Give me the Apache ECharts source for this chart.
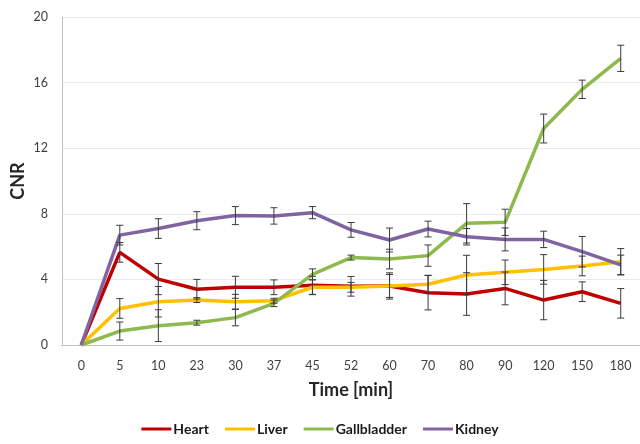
<!DOCTYPE html>
<html><head><meta charset="utf-8">
<script src="https://cdn.jsdelivr.net/npm/echarts@6/dist/echarts.min.js"></script>
<style>html,body{margin:0;padding:0;background:#fff}#c{width:640px;height:444px}</style>
</head><body><div id="c"></div>
<script>
var categories = ['0','5','10','23','30','37','45','52','60','70','80','90','120','150','180'];
var yTicks = [0, 4, 8, 12, 16, 20];
var heart      = [0, 5.65, 4.02, 3.40, 3.52, 3.52, 3.64, 3.58, 3.60, 3.19, 3.11, 3.45, 2.74, 3.25, 2.54];
var heartErr   = [0, 0.60, 0.95, 0.60, 0.67, 0.45, 0.55, 0.60, 0.80, 1.05, 1.30, 1.00, 1.20, 0.60, 0.90];
var liver      = [0, 2.23, 2.64, 2.74, 2.64, 2.70, 3.52, 3.52, 3.60, 3.70, 4.27, 4.43, 4.61, 4.82, 5.08];
var liverErr   = [0, 0.60, 0.93, 0.15, 0.45, 0.15, 0.45, 0.30, 0.70, 0.55, 1.20, 0.75, 0.90, 0.60, 0.80];
var gall       = [0, 0.85, 1.18, 1.36, 1.67, 2.54, 4.31, 5.33, 5.24, 5.45, 7.42, 7.48, 13.20, 15.59, 17.48];
var gallErr    = [0, 0.55, 0.97, 0.15, 0.50, 0.20, 0.33, 0.15, 0.60, 0.65, 1.20, 0.80, 0.88, 0.56, 0.80];
var kidney     = [0, 6.70, 7.10, 7.58, 7.89, 7.87, 8.07, 7.02, 6.40, 7.07, 6.60, 6.44, 6.44, 5.69, 4.88];
var kidneyErr  = [0, 0.60, 0.60, 0.55, 0.55, 0.50, 0.37, 0.45, 0.73, 0.48, 0.50, 0.70, 0.50, 0.93, 0.60];

var names = ['Heart', 'Liver', 'Gallbladder', 'Kidney'];
var colors = ['#C00000', '#FFC000', '#8DB94E', '#8064A2'];
var values = [heart, liver, gall, kidney];
var errs = [heartErr, liverErr, gallErr, kidneyErr];

var FONT = 'Lato';
var series = [];
names.forEach(function (n, k) {
  series.push({
    name: n, type: 'line', data: values[k], symbol: 'none', smooth: false,
    lineStyle: { color: colors[k], width: 3.5 }, itemStyle: { color: colors[k] },
    z: 2 + k
  });
});
names.forEach(function (n, k) {
  series.push({
    name: n + ' error', type: 'custom', z: 10,
    encode: { x: 0, y: 1 },
    data: values[k].map(function (v, i) { return [i, v, errs[k][i]]; }),
    renderItem: function (params, api) {
      var e = api.value(2);
      if (!e) return null;
      var x = api.value(0), v = api.value(1);
      var top = api.coord([x, v + e]);
      var bot = api.coord([x, v - e]);
      var hw = 3.5;
      var st = { stroke: '#3a3a3a', lineWidth: 1 };
      return { type: 'group', children: [
        { type: 'line', shape: { x1: top[0], y1: top[1], x2: bot[0], y2: bot[1] }, style: st },
        { type: 'line', shape: { x1: top[0] - hw, y1: top[1], x2: top[0] + hw, y2: top[1] }, style: st },
        { type: 'line', shape: { x1: bot[0] - hw, y1: bot[1], x2: bot[0] + hw, y2: bot[1] }, style: st }
      ]};
    }
  });
});

var chart = echarts.init(document.getElementById('c'), null, { renderer: 'canvas' });
chart.setOption({
  animation: false,
  textStyle: { fontFamily: FONT },
  grid: { left: 62, right: 0, top: 17, bottom: 99, containLabel: false, outerBoundsMode: 'none' },
  legend: {
    data: names.map(function (n, k) { return { name: n, icon: 'rect', itemStyle: { color: colors[k] } }; }),
    bottom: 3, left: 'center', itemWidth: 30, itemHeight: 3, itemGap: 16,
    textStyle: { fontFamily: FONT, fontSize: 14, fontWeight: 'bold', color: '#1a1a1a', padding: [0, 0, 0, -3] }
  },
  xAxis: {
    type: 'category', data: categories, boundaryGap: true,
    name: 'Time [min]', nameLocation: 'middle', nameGap: 36, nameMoveOverlap: false,
    nameTextStyle: { fontFamily: FONT, fontSize: 18, fontWeight: 'bold', color: '#262626' },
    axisLine: { lineStyle: { color: '#BFBFBF', width: 1 } },
    axisTick: { show: false },
    axisLabel: { fontFamily: FONT, fontSize: 12.5, color: '#404040', margin: 14 },
    splitLine: { show: false }
  },
  yAxis: {
    type: 'value', min: yTicks[0], max: yTicks[yTicks.length - 1], interval: 4,
    name: 'CNR', nameLocation: 'middle', nameGap: 35, nameMoveOverlap: false,
    nameTextStyle: { fontFamily: FONT, fontSize: 18, fontWeight: 'bold', color: '#262626' },
    axisLine: { show: true, lineStyle: { color: '#BFBFBF', width: 1 } },
    axisTick: { show: false },
    axisLabel: { fontFamily: FONT, fontSize: 12.5, color: '#404040', margin: 14 },
    splitLine: { lineStyle: { color: '#EBEBEB', width: 1 } }
  },
  series: series
});
</script></body></html>
